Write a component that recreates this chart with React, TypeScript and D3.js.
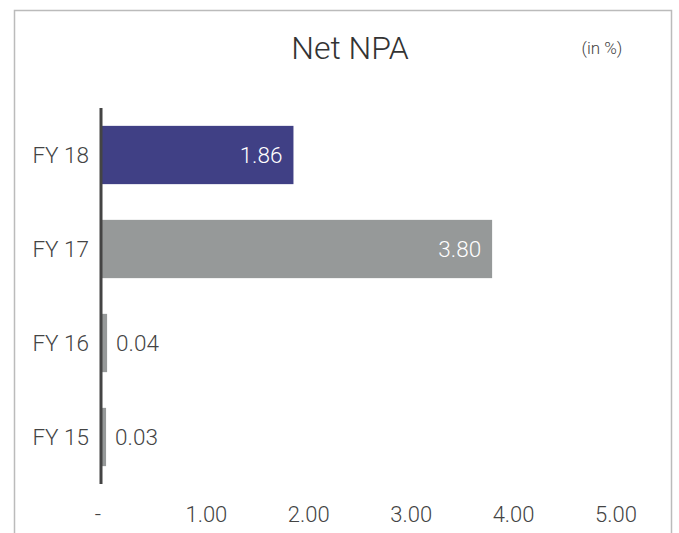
import * as d3 from "d3";
import React from "react";

const categories = ["FY 18", "FY 17", "FY 16", "FY 15"];
const values = [1.86, 3.8, 0.04, 0.03];
const barColors = ["#404085", "#969999", "#969999", "#969999"];
const xTicks = [0, 1, 2, 3, 4, 5];

const width = 679;
const height = 533;
const font = "'Helvetica Neue', Roboto, 'Liberation Sans', sans-serif";

export default function App() {
  const x = d3.scaleLinear().domain([0, 5]).range([101, 613]);
  const y = d3
    .scaleBand<string>()
    .domain(categories)
    .range([108, 484])
    .paddingInner(0.38)
    .paddingOuter(0.19);

  return (
    <svg
      width={width}
      height={height}
      style={{ position: "absolute", left: 0, top: 0, background: "#fff" }}
      fontFamily={font}
    >
      {/* frame */}
      <path d={`M14.5,${height + 2} V10.5 H671.5 V${height + 2}`} fill="none" stroke="#bbbbbb" strokeWidth={1.5} />

      <text x={350} y={59} textAnchor="middle" fontSize={32} fontWeight={300} fill="#333">
        Net NPA
      </text>
      <text x={602} y={54} textAnchor="middle" fontSize={17} fontWeight={300} fill="#444">
        (in %)
      </text>

      {categories.map((c, i) => {
        const y0 = y(c)!;
        const bw = x(values[i]) - x(0);
        const big = bw > 60;
        const cy = y0 + y.bandwidth() / 2;
        return (
          <g key={c}>
            <rect x={x(0)} y={y0} width={bw + 2} height={y.bandwidth()} fill={barColors[i]} />
            <text x={89} y={cy} dy="0.35em" textAnchor="end" fontSize={22.5} fontWeight={300} fill="#444">
              {c}
            </text>
            <text
              x={big ? x(values[i]) - 9 : x(values[i]) + 11}
              y={cy}
              dy="0.35em"
              textAnchor={big ? "end" : "start"}
              fontSize={22.5}
              fontWeight={300}
              fill={big ? "#fff" : "#444"}
            >
              {values[i].toFixed(2)}
            </text>
          </g>
        );
      })}

      <line x1={101} x2={101} y1={108} y2={484} stroke="#444" strokeWidth={3} />

      {xTicks.map((t) => (
        <text
          key={t}
          x={t === 0 ? x(t) - 3 : x(t) + 3}
          y={514}
          dy="0.35em"
          textAnchor="middle"
          fontSize={22}
          fontWeight={300}
          fill="#444"
        >
          {t === 0 ? "-" : t.toFixed(2)}
        </text>
      ))}
    </svg>
  );
}
